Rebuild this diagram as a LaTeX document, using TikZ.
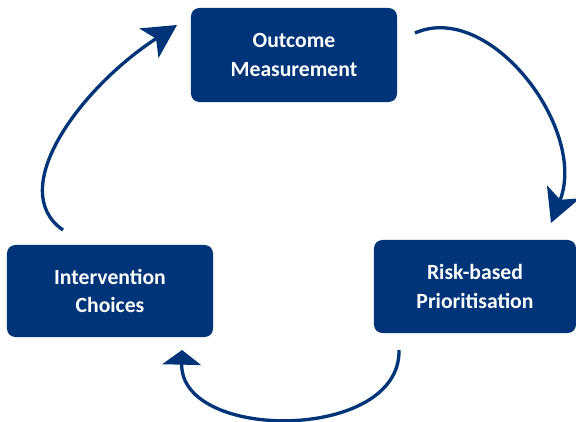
\documentclass[tikz,border=0pt]{standalone}
\usepackage{fontspec}
\setmainfont{Carlito}
\usepackage{tikz}
\usetikzlibrary{arrows.meta}
\definecolor{navy}{RGB}{0,52,120}

\tikzset{
  stage/.style={fill=navy, text=white, rounded corners=0.25cm, align=center,
    font=\fontsize{18.5}{24}\selectfont\bfseries,
    minimum width=6.18cm, minimum height=2.82cm},
  cyclearrow/.style={draw=navy, line width=0.1cm}
}

\begin{document}
\begin{tikzpicture}[x=0.03cm, y=-0.03cm, >={Stealth[length=1cm,width=1.05cm,inset=0.25cm]}] % 1 unit = 1 px
\useasboundingbox (0,0) rectangle (576,422);

\node[stage] (OM) at (294,55) {Outcome\\Measurement};
    \node[stage, minimum width=6.06cm, minimum height=2.79cm] (RP) at (475,286.5) {Risk-based\\Prioritisation};
    \node[stage, minimum height=2.76cm] (IC) at (110,291) {Intervention\\Choices};

    % free ends of the three arcs
    \coordinate (om-out) at (415,33);
    \coordinate (rp-in) at (551,223);
    \coordinate (rp-out) at (399,350);
    \coordinate (ic-in) at (182,350);
    \coordinate (ic-out) at (63,230);
    \coordinate (om-in) at (177,25);

    \draw[cyclearrow, ->] (om-out) .. controls (490,0) and (588,130) .. (rp-in);
    \draw[cyclearrow, -{Triangle[length=0.44cm,width=1.15cm]}] (rp-out) .. controls (401,442) and (180,442) .. (ic-in);
    \draw[cyclearrow, ->] (ic-out) .. controls (5,190) and (80,88) .. (om-in);

\end{tikzpicture}
\end{document}
